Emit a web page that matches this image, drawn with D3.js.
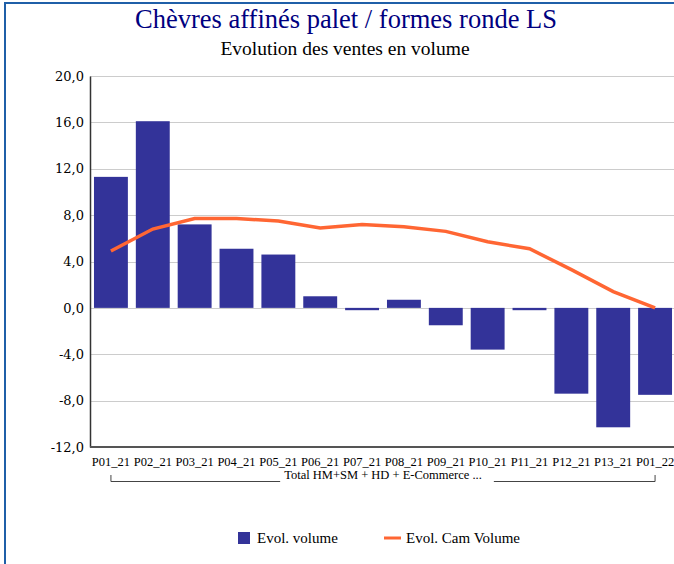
<!DOCTYPE html>
<html><head><meta charset="utf-8">
<script src="https://cdn.jsdelivr.net/npm/d3@7"></script>
<style>body{margin:0;background:#fff}svg{display:block}</style>
</head><body>
<script>
const categories = ["P01_21","P02_21","P03_21","P04_21","P05_21","P06_21","P07_21","P08_21","P09_21","P10_21","P11_21","P12_21","P13_21","P01_22"];
const evolVolume = [11.3,16.1,7.2,5.1,4.6,1.0,-0.2,0.7,-1.5,-3.6,-0.2,-7.4,-10.3,-7.5];
const evolCamVolume = [4.9,6.8,7.7,7.7,7.5,6.9,7.2,7.0,6.6,5.7,5.1,3.3,1.4,0.0];
const yTicks = [-12,-8,-4,0,4,8,12,16,20];
const title = "Chèvres affinés palet / formes ronde LS";
const subtitle = "Evolution des ventes en volume";
const groupLabel = "Total HM+SM + HD + E-Commerce ...";
const legendLabels = ["Evol. volume","Evol. Cam Volume"];

(function(){
const W=674,H=564;
const svg=d3.select("body").append("svg").attr("width",W).attr("height",H);
const font="Liberation Serif, Times New Roman, serif";
const font2="DejaVu Serif, serif";
// border
svg.append("path").attr("d","M5,564 V3 H674").attr("fill","none").attr("stroke","#1f5fa8").attr("stroke-width",2);

const pl=90,pr=676,pt=76,pb=447;
const x=d3.scaleBand().domain(categories).range([pl,pr]).paddingInner(0.19).paddingOuter(0.095);
const y=d3.scaleLinear().domain([-12,20]).range([pb,pt]);

svg.append("text").attr("x",346).attr("y",28).attr("text-anchor","middle").attr("font-family",font).attr("font-size",26.5).attr("fill","#000080").text(title);
svg.append("text").attr("x",345).attr("y",55).attr("text-anchor","middle").attr("font-family",font).attr("font-size",19.5).attr("fill","#000").text(subtitle);

// gridlines
svg.append("g").selectAll("line").data(yTicks.filter(d=>d!==-12)).join("line")
  .attr("x1",pl).attr("x2",W).attr("y1",d=>Math.round(y(d))+0.5).attr("y2",d=>Math.round(y(d))+0.5)
  .attr("stroke","#cccccc").attr("stroke-width",1);

// y axis
const yAxis=svg.append("g").attr("transform",`translate(${pl},0)`)
  .call(d3.axisLeft(y).tickValues(yTicks).tickSize(0).tickPadding(6).tickFormat(d=>d3.format(".1f")(d).replace(".",",").replace("−","-")));
yAxis.select(".domain").attr("stroke","#333").attr("stroke-width",1.5);
yAxis.selectAll("text").attr("font-family",font2).attr("font-size",13).attr("fill","#000");

// bars
svg.append("g").selectAll("rect").data(evolVolume).join("rect")
  .attr("x",(d,i)=>x(categories[i])).attr("width",x.bandwidth())
  .attr("y",d=>y(Math.max(0,d))).attr("height",d=>Math.abs(y(d)-y(0)))
  .attr("fill","#333399");

// line
const line=d3.line().x((d,i)=>x(categories[i])+x.bandwidth()/2).y(d=>y(d));
svg.append("path").datum(evolCamVolume).attr("d",line).attr("fill","none").attr("stroke","#ff6633").attr("stroke-width",3.5);

// x axis
svg.append("line").attr("x1",pl).attr("x2",W).attr("y1",pb).attr("y2",pb).attr("stroke","#555").attr("stroke-width",2);
const xAxis=svg.append("g").attr("transform",`translate(0,${pb})`)
  .call(d3.axisBottom(x).tickSize(0).tickPadding(8));
xAxis.select(".domain").remove();
xAxis.selectAll("text").attr("font-family",font).attr("font-size",12.5).attr("fill","#000").attr("dy","0.9em");

// group bracket
const gx1=x(categories[0])+x.bandwidth()/2, gx2=x(categories[categories.length-1])+x.bandwidth()/2;
const gy=481.5;
const gt=svg.append("text").attr("x",(gx1+gx2)/2).attr("y",479).attr("text-anchor","middle").attr("font-family",font).attr("font-size",12.5).attr("fill","#000").text(groupLabel);
const bb=gt.node().getBBox();
svg.append("path").attr("d",`M${gx1},475 V${gy} H${bb.x-4} M${bb.x+bb.width+12},${gy} H${gx2} V475`).attr("fill","none").attr("stroke","#444").attr("stroke-width",1);

// legend
const lg=svg.append("g");
lg.append("rect").attr("x",238).attr("y",532).attr("width",12).attr("height",12).attr("fill","#333399");
lg.append("text").attr("x",257).attr("y",543).attr("font-family",font).attr("font-size",15).attr("fill","#000").text(legendLabels[0]);
lg.append("line").attr("x1",384).attr("x2",401).attr("y1",538).attr("y2",538).attr("stroke","#ff6633").attr("stroke-width",3);
lg.append("text").attr("x",406).attr("y",543).attr("font-family",font).attr("font-size",15).attr("fill","#000").text(legendLabels[1]);
})();
</script>
</body></html>
